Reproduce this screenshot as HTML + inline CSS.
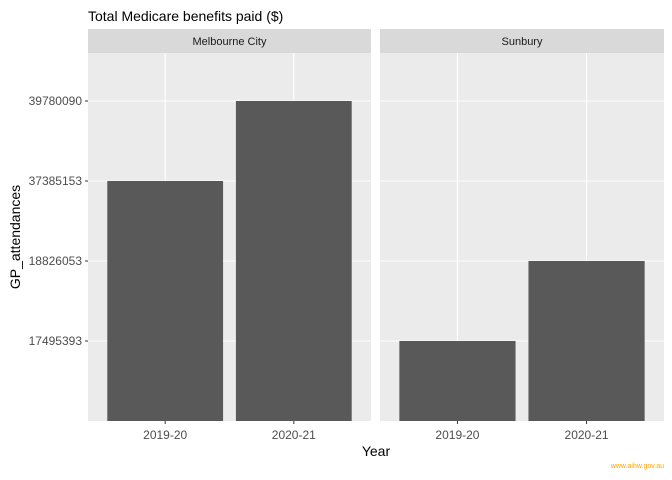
<!DOCTYPE html>
<html><head><meta charset="utf-8">
<style>
body{margin:0;background:#fff;}
svg{display:block;font-family:"Liberation Sans",Arial,sans-serif;}
</style></head>
<body>
<svg id="chart" width="672" height="480" viewBox="0 0 672 480"></svg>
<script>
const panels = ["Melbourne City", "Sunbury"];
const years = ["2019-20", "2020-21"];
const melbourneValues = [37385153, 39780090];
const sunburyValues = [17495393, 18826053];
const levels = ["17495393", "18826053", "37385153", "39780090"];

const NS = "http://www.w3.org/2000/svg";
const svg = document.getElementById("chart");
function mk(tag, attrs, parent) {
  const e = document.createElementNS(NS, tag);
  for (const k in attrs) e.setAttribute(k, attrs[k]);
  (parent || svg).appendChild(e);
  return e;
}
const panelTop = 53, panelBottom = 421;
const unit = 80; // px per factor level
function yScale(i) { return panelBottom - i * unit; } // i = level position (1-based), 0 = baseline
const panelX = [[88, 371], [380, 664]];
function xScale(p, j) {
  const [a, b] = panelX[p];
  const step = (b - a) / (years.length + 0.2);
  return a + step * (0.6 + j);
}
const allValues = [melbourneValues, sunburyValues];

let t = mk("text", {x: 88, y: 21, "font-size": 14, fill: "#000"});
t.textContent = "Total Medicare benefits paid ($)";



panels.forEach((name, p) => {
  const [a, b] = panelX[p];
  const g = mk("g", {});
  
  
  const strip = mk("rect", {x: a, y: 29, width: b - a, height: 24, fill: "#d9d9d9"}, g);
  
  
  const st = mk("text", {x: (a + b) / 2, y: 45, "font-size": 11, fill: "#1a1a1a", "text-anchor": "middle"}, g);
  st.textContent = name;
  
  
  const bg = mk("rect", {x: a, y: panelTop, width: b - a, height: panelBottom - panelTop, fill: "#ebebeb"}, g);
  
  
  levels.forEach((lv, i) => {
    const y = yScale(i + 1);
    const gl = mk("line", {x1: a, x2: b, y1: y, y2: y, stroke: "#fff", "stroke-width": 1.1}, g);
    
    
  });
  years.forEach((yr, j) => {
    const x = xScale(p, j);
    const gl = mk("line", {x1: x, x2: x, y1: panelTop, y2: panelBottom, stroke: "#fff", "stroke-width": 1.1}, g);
    
    
  });
  const step = (b - a) / (years.length + 0.2);
  allValues[p].forEach((v, j) => {
    const idx = levels.indexOf(String(v)) + 1;
    const x = xScale(p, j), w = step * 0.9;
    const bar = mk("rect", {x: x - w / 2, y: yScale(idx), width: w, height: yScale(0) - yScale(idx), fill: "#595959"}, g);
    
    
  });
  years.forEach((yr, j) => {
    const x = xScale(p, j);
    mk("line", {x1: x, x2: x, y1: panelBottom, y2: panelBottom + 3, stroke: "#333", "stroke-width": 1});
    const tl = mk("text", {x: x, y: 439, "font-size": 12, fill: "#4d4d4d", "text-anchor": "middle"});
    tl.textContent = yr;
    
    
  });
});

levels.forEach((lv, i) => {
  const y = yScale(i + 1);
  mk("line", {x1: 85, x2: 88, y1: y, y2: y, stroke: "#333", "stroke-width": 1});
  const tl = mk("text", {x: 82, y: y + 4, "font-size": 12, fill: "#4d4d4d", "text-anchor": "end"});
  tl.textContent = lv;
  
  
});

t = mk("text", {x: 376, y: 456, "font-size": 14, fill: "#000", "text-anchor": "middle"});
t.textContent = "Year";


t = mk("text", {x: 0, y: 0, "font-size": 14, fill: "#000", "text-anchor": "middle", transform: "translate(20,237) rotate(-90)"});
t.textContent = "GP_attendances";


t = mk("text", {x: 664, y: 468, "font-size": 7, fill: "#ffa500", "text-anchor": "end"});
t.textContent = "www.aihw.gov.au";


</script>
</body></html>
